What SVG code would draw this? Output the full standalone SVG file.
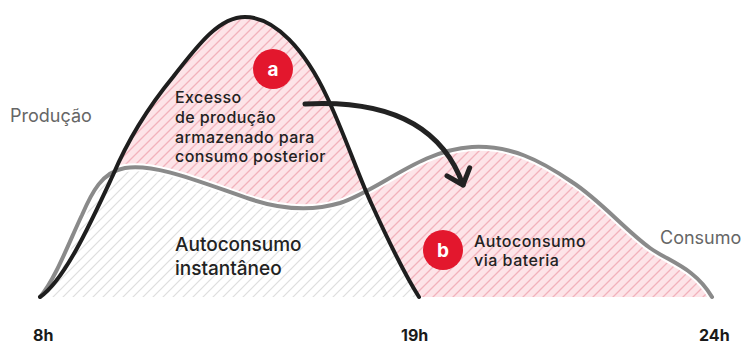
<svg xmlns="http://www.w3.org/2000/svg" width="744" height="347" viewBox="0 0 744 347">
<style>
.lbl{font-family:Inter,"Liberation Sans",sans-serif;fill:#222;font-weight:500}
.side{font-family:Inter,"Liberation Sans",sans-serif;fill:#666;font-size:18px}
.hr{font-family:Inter,"Liberation Sans",sans-serif;fill:#1a1a1a;font-size:16px;font-weight:700}
.badge{fill:#e3172d}
.badgeT{font-family:Inter,"Liberation Sans",sans-serif;fill:#fff;font-size:19px;font-weight:700;text-anchor:middle}
.prod{fill:none;stroke:#1e1e1e;stroke-width:4;stroke-linecap:round;stroke-linejoin:round}
.cons{fill:none;stroke:#8a8a8a;stroke-width:4;stroke-linecap:round}
.halo{fill:none;stroke:#fff;stroke-width:8;stroke-linecap:round}
.arrow{fill:none;stroke:#222;stroke-width:5;stroke-linecap:round;stroke-linejoin:round}
</style>
<defs>
<pattern id="hPink" patternUnits="userSpaceOnUse" width="10" height="10">
<rect width="10" height="10" fill="#fde4e8"/>
<path d="M-1,1 L1,-1 M0,10 L10,0 M9,11 L11,9" stroke="#f2b2bc" stroke-width="1.3"/>
</pattern>
<pattern id="hGrey" patternUnits="userSpaceOnUse" width="10" height="10">
<rect width="10" height="10" fill="#fff"/>
<path d="M-1,1 L1,-1 M0,10 L10,0 M9,11 L11,9" stroke="#dedede" stroke-width="1.2"/>
</pattern>
<path id="gArea" d="M40,297 C55,280 70,240 82,215 C92,192 102,172 125,168 C155,163 200,182 250,199 C280,209 310,212 340,203 C380,190 420,150 472,147 C510,145 540,160 572,182 C600,200 625,230 650,248 C670,262 695,268 712,297 Z"/>
<path id="bArea" d="M40,297 C65,280 92,220 113,175 C130,135 150,105 173,77 C200,42 220,17 245,17 C275,17 305,50 327,97 C345,135 358,175 372,205 C388,240 405,275 419,297 Z"/>
<clipPath id="aboveGrey"><path d="M40,297 C55,280 70,240 82,215 C92,192 102,172 125,168 C155,163 200,182 250,199 C280,209 310,212 340,203 C380,190 420,150 472,147 C510,145 540,160 572,182 C600,200 625,230 650,248 C670,262 695,268 712,297 L744,297 L744,0 L0,0 L0,297 Z"/></clipPath>
<clipPath id="rightBlack"><path d="M245,0 L245,17 C275,17 305,50 327,97 C345,135 358,175 372,205 C388,240 405,275 419,297 L744,297 L744,0 Z"/></clipPath>
<clipPath id="leftBlack"><path d="M0,0 L245,0 L245,17 C275,17 305,50 327,97 C345,135 358,175 372,205 C388,240 405,275 419,297 L0,297 Z"/></clipPath>
<marker id="head" markerUnits="userSpaceOnUse" viewBox="-20 -20 40 40" markerWidth="40" markerHeight="40" refX="0" refY="0" orient="auto" overflow="visible">
<path d="M-14,-12 L0,0 L-14,12" fill="none" stroke="#222" stroke-width="5" stroke-linecap="round" stroke-linejoin="round"/>
</marker>
</defs>
<rect width="744" height="347" fill="#fff"/>
<g id="areas">
<g clip-path="url(#leftBlack)"><use href="#gArea" fill="url(#hGrey)"/></g>
<g clip-path="url(#aboveGrey)"><use href="#bArea" fill="url(#hPink)"/></g>
<g clip-path="url(#rightBlack)"><use href="#gArea" fill="url(#hPink)"/></g>
</g>
<g id="curves">
<path class="halo" d="M40,297 C55,280 70,240 82,215 C92,192 102,172 125,168 C155,163 200,182 250,199 C280,209 310,212 340,203 C380,190 420,150 472,147 C510,145 540,160 572,182 C600,200 625,230 650,248 C670,262 695,268 712,297"/>
<path id="consumo-curve" class="cons" d="M40,297 C55,280 70,240 82,215 C92,192 102,172 125,168 C155,163 200,182 250,199 C280,209 310,212 340,203 C380,190 420,150 472,147 C510,145 540,160 572,182 C600,200 625,230 650,248 C670,262 695,268 712,297"/>
<path id="producao-curve" class="prod" d="M40,297 C65,280 92,220 113,175 C130,135 150,105 173,77 C200,42 220,17 245,17 C275,17 305,50 327,97 C345,135 358,175 372,205 C388,240 405,275 419,297"/>
</g>
<g id="connectors">
<path class="arrow" d="M305,104 C380,100 440,120 463,185" marker-end="url(#head)"/>
</g>
<g id="node-a">
<circle class="badge" cx="273" cy="69" r="20"/>
<text class="badgeT" x="273" y="76">a</text>
<text class="lbl" font-size="16" letter-spacing="0.4"><tspan x="175" y="103">Excesso</tspan><tspan x="175" y="123">de produção</tspan><tspan x="175" y="143">armazenado para</tspan><tspan x="175" y="162">consumo posterior</tspan></text>
</g>
<g id="node-instant">
<text class="lbl" font-size="19"><tspan x="175" y="251">Autoconsumo</tspan><tspan x="175" y="275">instantâneo</tspan></text>
</g>
<g id="node-b">
<circle class="badge" cx="443" cy="250" r="20"/>
<text class="badgeT" x="443" y="257">b</text>
<text class="lbl" font-size="16" letter-spacing="0.5"><tspan x="474" y="247">Autoconsumo</tspan><tspan x="474" y="266">via bateria</tspan></text>
</g>
<g id="labels">
<text class="side" x="10" y="122">Produção</text>
<text class="side" x="660" y="244">Consumo</text>
<text class="hr" x="33" y="341">8h</text>
<text class="hr" x="401" y="341">19h</text>
<text class="hr" x="699" y="341">24h</text>
</g>
</svg>
